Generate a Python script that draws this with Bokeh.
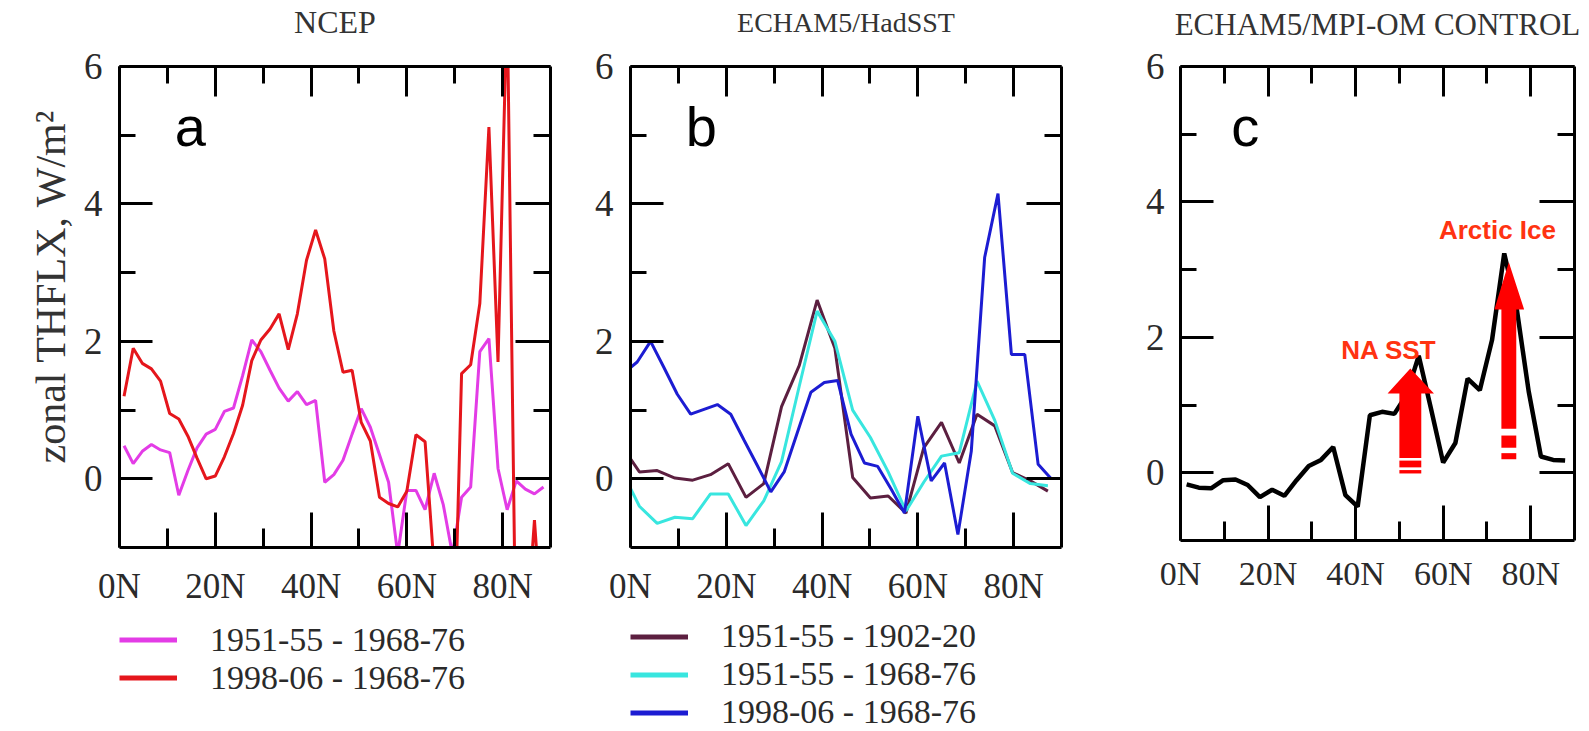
import math
from bokeh.plotting import figure
from bokeh.models import Range1d, FixedTicker, LinearAxis, Label, Legend, LegendItem, Title
from bokeh.layouts import row, column
from bokeh.embed import file_html
from bokeh.resources import INLINE

# ---------------------------------------------------------------- data
# NCEP reanalysis latitudes (T62 Gaussian grid, northern hemisphere)
lat_ncep = [0.95, 2.86, 4.76, 6.67, 8.57, 10.48, 12.38, 14.29, 16.19, 18.10,
            20.00, 21.90, 23.81, 25.71, 27.62, 29.52, 31.43, 33.33, 35.24, 37.14,
            39.05, 40.95, 42.86, 44.76, 46.67, 48.57, 50.48, 52.38, 54.29, 56.19,
            58.10, 60.00, 61.90, 63.81, 65.71, 67.62, 69.52, 71.43, 73.33, 75.24,
            77.14, 79.04, 80.95, 82.85, 84.75, 86.65, 88.54]
ncep_1951_55 = [0.48, 0.22, 0.40, 0.50, 0.42, 0.38, -0.24, 0.12, 0.45, 0.65,
                0.72, 0.98, 1.03, 1.50, 2.02, 1.85, 1.58, 1.32, 1.13, 1.27,
                1.08, 1.14, -0.05, 0.06, 0.27, 0.65, 1.02, 0.75, 0.35, -0.05,
                -1.10, -0.17, -0.17, -0.45, 0.08, -0.38, -1.10, -0.27, -0.12, 1.85,
                2.04, 0.15, -0.45, -0.03, -0.15, -0.22, -0.12]
ncep_1998_06 = [1.20, 1.90, 1.68, 1.60, 1.42, 0.95, 0.87, 0.62, 0.30, 0.00,
                0.04, 0.32, 0.66, 1.07, 1.72, 2.02, 2.18, 2.40, 1.88, 2.40,
                3.18, 3.62, 3.20, 2.15, 1.55, 1.58, 0.82, 0.55, -0.27, -0.36,
                -0.41, -0.18, 0.64, 0.54, -1.30, -3.00, -3.50, 1.53, 1.66, 2.55,
                5.12, 1.70, 7.00, -3.00, -2.50, -0.60, -2.50]

# ECHAM5/HadSST ensembles (T31 grid, equator point added)
lat_had_t31 = [0.0, 1.86, 5.57, 9.28, 12.99, 16.70, 20.41, 24.12, 27.83, 31.54,
               35.25, 38.97, 42.68, 46.39, 50.10, 53.81, 57.52, 61.23, 64.94, 68.65,
               72.36, 76.07, 79.79, 83.50, 87.16]
had_1951_55_vs_1902_20 = [0.29, 0.10, 0.12, 0.01, -0.02, 0.06, 0.22, -0.27, -0.07, 1.05,
                          1.65, 2.60, 1.90, 0.02, -0.28, -0.25, -0.50, 0.45, 0.82, 0.23,
                          0.94, 0.77, 0.09, -0.03, -0.18]
had_1951_55_vs_1968_76 = [-0.14, -0.40, -0.65, -0.56, -0.58, -0.22, -0.22, -0.68, -0.32, 0.25,
                          1.35, 2.44, 2.00, 1.00, 0.60, 0.10, -0.47, -0.05, 0.33, 0.38,
                          1.42, 0.85, 0.08, -0.07, -0.10]

# ECHAM5/HadSST 1998-06 run (T42 grid, equator point added)
lat_had_t42 = [0.0, 1.40, 4.19, 6.98, 9.77, 12.56, 15.35, 18.14, 20.93, 23.72,
               26.51, 29.30, 32.09, 34.88, 37.67, 40.47, 43.26, 46.05, 48.84, 51.63,
               54.42, 57.21, 60.00, 62.79, 65.58, 68.37, 71.16, 73.95, 76.74, 79.54,
               82.33, 85.12, 87.86]
had_1998_06_vs_1968_76 = [1.62, 1.70, 2.00, 1.62, 1.23, 0.94, 1.01, 1.08, 0.94, 0.56,
                          0.19, -0.19, 0.10, 0.68, 1.26, 1.40, 1.43, 0.65, 0.23, 0.18,
                          -0.15, -0.50, 0.91, -0.03, 0.23, -0.81, 0.40, 3.22, 4.15, 1.81,
                          1.81, 0.21, 0.00]

# ECHAM5/MPI-OM control run (T42 grid)
lat_ctrl = [1.40, 4.19, 6.98, 9.77, 12.56, 15.35, 18.14, 20.93, 23.72, 26.51,
            29.30, 32.09, 34.88, 37.67, 40.47, 43.26, 46.05, 48.84, 51.63, 54.42,
            57.21, 60.00, 62.79, 65.58, 68.37, 71.16, 73.95, 76.74, 79.54, 82.33,
            85.12, 87.86]
ctrl_regression = [-0.17, -0.22, -0.23, -0.11, -0.10, -0.18, -0.36, -0.25, -0.34, -0.11,
                   0.10, 0.19, 0.38, -0.33, -0.50, 0.85, 0.90, 0.87, 1.15, 1.73,
                   0.95, 0.15, 0.44, 1.39, 1.22, 1.96, 3.24, 2.45, 1.20, 0.24,
                   0.19, 0.18]

x_ticks = [0, 20, 40, 60, 80]
x_minor = [10, 30, 50, 70]
x_tick_labels = {0: "0N", 20: "20N", 40: "40N", 60: "60N", 80: "80N"}
y_ticks = [0, 2, 4, 6]
y_minor = [1, 3, 5]

# ---------------------------------------------------------------- styling
PAGE_H = 731
MAIN_H = 610          # height of panels a and b; legends sit below them
SERIF = "Liberation Serif"
SANS = "Liberation Sans"
TEXT_GREY = "#2a2a2a"
X_RANGE = (0, 90)
Y_RANGE = (-1, 6)

COL_MAGENTA = "#e33ce6"
COL_RED = "#e5161c"
COL_MAROON = "#5c1f40"
COL_CYAN = "#38e6df"
COL_BLUE = "#1c1cd2"


def style_axis(ax, tick_in, minor_in, show_labels, font_size="34px", standoff=14):
    ax.major_tick_in = tick_in
    ax.major_tick_out = 0
    ax.minor_tick_in = minor_in
    ax.minor_tick_out = 0
    ax.axis_line_width = 3
    ax.axis_line_color = "black"
    ax.major_tick_line_width = 3
    ax.minor_tick_line_width = 3
    ax.major_tick_line_color = "black"
    ax.minor_tick_line_color = "black"
    if show_labels:
        ax.major_label_text_font = SERIF
        ax.major_label_text_font_size = font_size
        ax.major_label_text_color = TEXT_GREY
        ax.major_label_standoff = standoff
    else:
        # tick marks only on the opposite sides of the box
        ax.major_label_text_font_size = "1px"
        ax.major_label_text_color = None
        ax.major_label_standoff = 0


def make_panel(page_x0, width, height, frame, title, title_size, title_standoff,
               xlab_size, ylab_size, xlab_standoff, ylab_standoff):
    left, right, top, bottom = frame
    p = figure(width=width, height=height, title=None,
               x_range=Range1d(*X_RANGE), y_range=Range1d(*Y_RANGE),
               min_border_left=left - page_x0,
               min_border_right=page_x0 + width - right,
               min_border_top=top, min_border_bottom=height - bottom,
               x_axis_location=None, y_axis_location=None,
               output_backend="svg", toolbar_location=None,
               outline_line_color=None,
               background_fill_color="white", border_fill_color="white")
    p.xgrid.visible = False
    p.ygrid.visible = False

    xb = LinearAxis(ticker=FixedTicker(ticks=x_ticks, minor_ticks=x_minor),
                    major_label_overrides=x_tick_labels)
    style_axis(xb, 35, 19, True, xlab_size, xlab_standoff)
    p.add_layout(xb, "below")

    # top axis: inward ticks, panel heading as its label
    xt = LinearAxis(ticker=FixedTicker(ticks=x_ticks, minor_ticks=x_minor))
    style_axis(xt, 30, 17, False)
    xt.axis_label = title
    xt.axis_label_text_font = SERIF
    xt.axis_label_text_font_size = title_size
    xt.axis_label_text_font_style = "normal"
    xt.axis_label_text_color = "#333333"
    xt.axis_label_standoff = title_standoff
    p.add_layout(xt, "above")

    yl = LinearAxis(ticker=FixedTicker(ticks=y_ticks, minor_ticks=y_minor))
    style_axis(yl, 33, 16, True, ylab_size, ylab_standoff)
    p.add_layout(yl, "left")
    yr = LinearAxis(ticker=FixedTicker(ticks=y_ticks, minor_ticks=y_minor))
    style_axis(yr, 35, 17, False)
    p.add_layout(yr, "right")
    return p


def panel_letter(p, text):
    p.add_layout(Label(x=14.8, y=5.12, text=text, text_align="center",
                       text_baseline="alphabetic", text_font=SANS,
                       text_font_size="56px", text_color="black"))


def legend_strip(width, entries, first_row_center_px):
    """A strip below a panel holding its line legend (pixel coordinates)."""
    h = PAGE_H - MAIN_H
    f = figure(width=width, height=h, x_range=Range1d(0, width), y_range=Range1d(0, h),
               title=None,
               min_border_left=0, min_border_right=0, min_border_top=0, min_border_bottom=0,
               x_axis_location=None, y_axis_location=None, outline_line_color=None,
               output_backend="svg", toolbar_location=None,
               background_fill_color="white", border_fill_color="white")
    f.xgrid.visible = False
    f.ygrid.visible = False
    row_h = 37
    items = []
    for label, color in entries:
        # sample line lies outside the strip's ranges; only its legend swatch shows
        r = f.line(x=[-20, -10], y=[-20, -20], line_color=color, line_width=5)
        items.append(LegendItem(label=label, renderers=[r]))
    legend_top = first_row_center_px - MAIN_H - row_h / 2
    legend_bottom = legend_top + row_h * len(entries)
    leg = Legend(items=items, location=(0, max(0, h - legend_bottom)),
                 orientation="vertical", label_text_font=SERIF,
                 label_text_font_size="34px", label_text_color=TEXT_GREY,
                 glyph_width=58, glyph_height=row_h, label_height=row_h,
                 spacing=0, padding=0, margin=0, label_standoff=33,
                 border_line_color=None, background_fill_alpha=0)
    f.add_layout(leg)
    return f


# ---------------------------------------------------------------- panel a: NCEP
pa = make_panel(0, 590, MAIN_H, (119, 550, 66, 547), "NCEP", "32px", 27,
                "35px", "37px", 19, 17)
pa.line(lat_ncep, ncep_1951_55, line_color=COL_MAGENTA, line_width=3)
pa.line(lat_ncep, ncep_1998_06, line_color=COL_RED, line_width=3)
panel_letter(pa, "a")
pa.add_layout(Title(text="zonal THFLX, W/m²", align="left", offset=84, standoff=14,
                    text_font=SERIF, text_font_size="42px", text_font_style="normal",
                    text_color="#333333"), "left")
leg_a = legend_strip(590, [("1951-55 - 1968-76", COL_MAGENTA),
                           ("1998-06 - 1968-76", COL_RED)], 641)

# ---------------------------------------------------------------- panel b: ECHAM5/HadSST
pb = make_panel(590, 530, MAIN_H, (630, 1061, 66, 547), "ECHAM5/HadSST", "28px", 29,
                "35px", "37px", 19, 17)
pb.line(lat_had_t31, had_1951_55_vs_1902_20, line_color=COL_MAROON, line_width=3)
pb.line(lat_had_t31, had_1951_55_vs_1968_76, line_color=COL_CYAN, line_width=3)
pb.line(lat_had_t42, had_1998_06_vs_1968_76, line_color=COL_BLUE, line_width=3)
panel_letter(pb, "b")
leg_b = legend_strip(530, [("1951-55 - 1902-20", COL_MAROON),
                           ("1951-55 - 1968-76", COL_CYAN),
                           ("1998-06 - 1968-76", COL_BLUE)], 641)

# ---------------------------------------------------------------- panel c: coupled control run
pc = make_panel(1120, 469, PAGE_H, (1180, 1574, 66, 540), "ECHAM5/MPI-OM CONTROL", "31px", 25,
                "34px", "37px", 14, 16)
pc.line(lat_ctrl, ctrl_regression, line_color="black", line_width=4.5)
panel_letter(pc, "c")

ARROW_RED = "#ff0000"
# North Atlantic SST arrow: shaft + head, then two short bars below the shaft
pc.patch([50.0, 55.0, 55.0, 57.9, 52.5, 47.3, 50.0],
         [0.22, 0.22, 1.17, 1.17, 1.54, 1.17, 1.17],
         fill_color=ARROW_RED, line_color=None)
pc.quad(left=[50.0, 50.0], right=[55.0, 55.0], bottom=[0.08, -0.01], top=[0.18, 0.04],
        fill_color=ARROW_RED, line_color=None)
# Arctic sea-ice arrow
pc.patch([73.3, 76.7, 76.7, 78.5, 75.0, 71.7, 73.3],
         [0.65, 0.65, 2.41, 2.41, 3.11, 2.41, 2.41],
         fill_color=ARROW_RED, line_color=None)
pc.quad(left=[73.3, 73.3], right=[76.7, 76.7], bottom=[0.37, 0.20], top=[0.55, 0.29],
        fill_color=ARROW_RED, line_color=None)

pc.add_layout(Label(x=47.6, y=1.82, text="NA SST", text_align="center",
                    text_baseline="alphabetic", text_font=SANS, text_font_style="bold",
                    text_font_size="26px", text_color="#ff3311"))
pc.add_layout(Label(x=72.4, y=3.58, text="Arctic Ice", text_align="center",
                    text_baseline="alphabetic", text_font=SANS, text_font_style="bold",
                    text_font_size="26px", text_color="#ff3311"))

layout = row(column(pa, leg_a, spacing=0), column(pb, leg_b, spacing=0),
             column(pc, spacing=0), spacing=0)
open("out.html", "w").write(file_html(layout, INLINE))
